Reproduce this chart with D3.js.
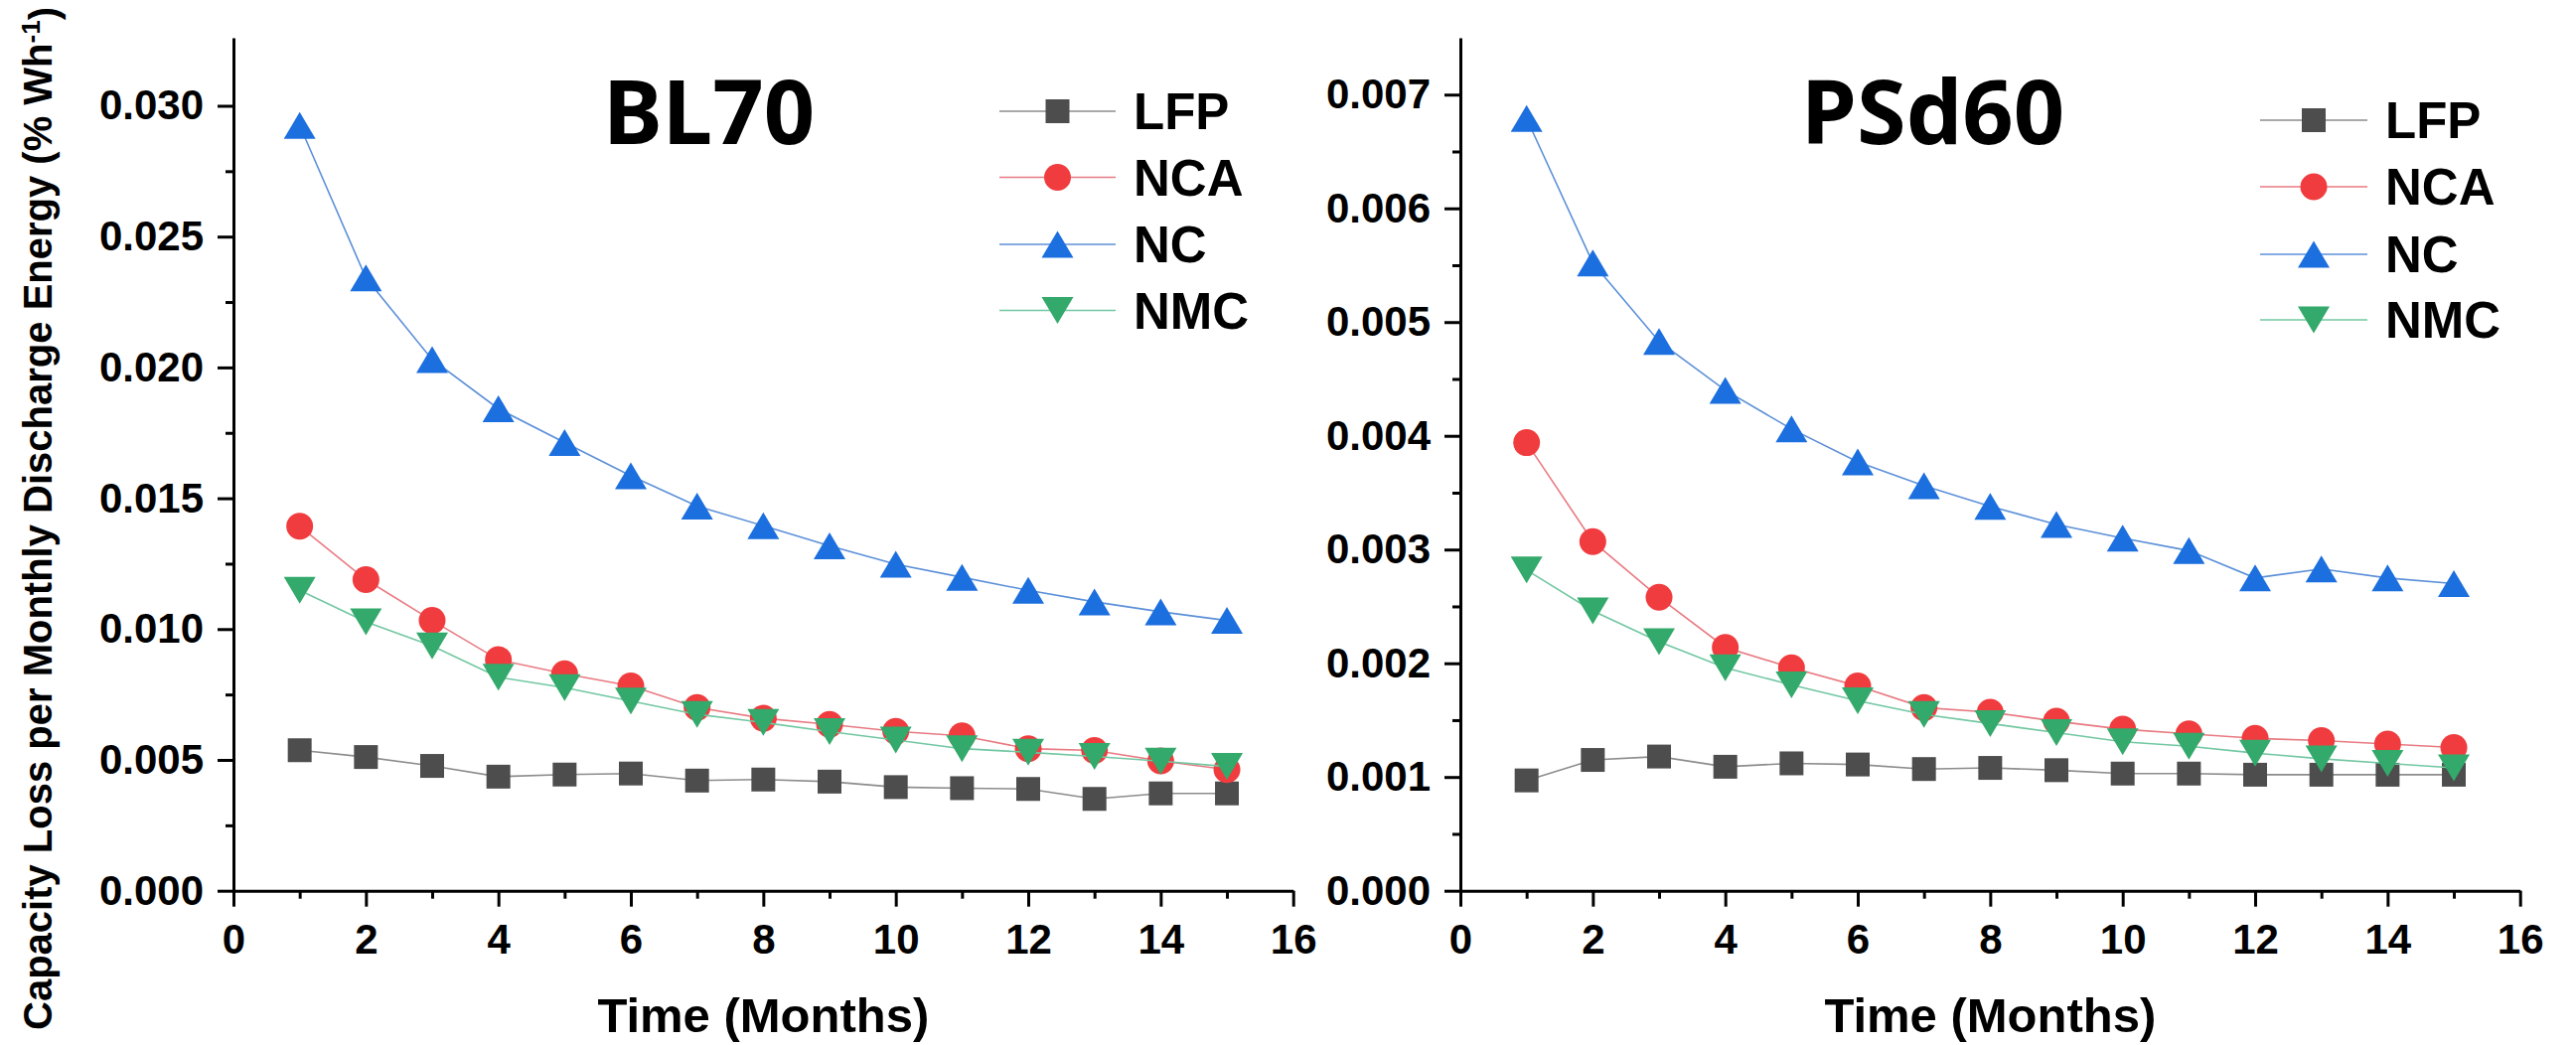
<!DOCTYPE html>
<html>
<head>
<meta charset="utf-8">
<script src="https://cdn.jsdelivr.net/npm/d3@7"></script>
<style>
  html, body { margin: 0; padding: 0; background: #ffffff; }
  svg { display: block; }
</style>
</head>
<body>
<svg id="chart" width="2593" height="1052"></svg>
<script>
// ---- data ----------------------------------------------------------------
const months = [1, 2, 3, 4, 5, 6, 7, 8, 9, 10, 11, 12, 13, 14, 15];
const seriesNames = ["LFP", "NCA", "NC", "NMC"];

// BL70 panel: capacity loss per monthly discharge energy (% Wh^-1)
const bl70LFP = [0.00537, 0.00511, 0.00477, 0.00436, 0.00444, 0.00448, 0.00421, 0.00425, 0.00417, 0.00396, 0.00392, 0.00389, 0.00351, 0.00372, 0.00372];
const bl70NCA = [0.01393, 0.01189, 0.01033, 0.00883, 0.00829, 0.00783, 0.00700, 0.00659, 0.00636, 0.00609, 0.00592, 0.00543, 0.00536, 0.00496, 0.00463];
const bl70NC  = [0.02925, 0.02342, 0.02030, 0.01842, 0.01713, 0.01586, 0.01470, 0.01395, 0.01318, 0.01248, 0.01198, 0.01148, 0.01104, 0.01066, 0.01033];
const bl70NMC = [0.01148, 0.01028, 0.00936, 0.00816, 0.00776, 0.00725, 0.00674, 0.00643, 0.00608, 0.00576, 0.00543, 0.00529, 0.00513, 0.00495, 0.00475];

// PSd60 panel
const psd60LFP = [0.00097, 0.00115, 0.00118, 0.00109, 0.00112, 0.00111, 0.00107, 0.00108, 0.00106, 0.00103, 0.00103, 0.00102, 0.00102, 0.00102, 0.00102];
const psd60NCA = [0.00394, 0.00307, 0.00258, 0.00214, 0.00196, 0.00180, 0.00161, 0.00157, 0.00149, 0.00142, 0.00138, 0.00134, 0.00132, 0.00129, 0.00126];
const psd60NC  = [0.00679, 0.00552, 0.00483, 0.00440, 0.00406, 0.00377, 0.00356, 0.00338, 0.00322, 0.00310, 0.00299, 0.00275, 0.00283, 0.00275, 0.00270];
const psd60NMC = [0.00282, 0.00246, 0.00219, 0.00196, 0.00181, 0.00167, 0.00155, 0.00147, 0.00139, 0.00131, 0.00127, 0.00121, 0.00116, 0.00112, 0.00108];

// axis ticks
const xTicks = [0, 2, 4, 6, 8, 10, 12, 14, 16];
const xMinorTicks = [1, 3, 5, 7, 9, 11, 13, 15];
const bl70YTicks = [0, 0.005, 0.010, 0.015, 0.020, 0.025, 0.030];
const bl70YMinor = [0.0025, 0.0075, 0.0125, 0.0175, 0.0225, 0.0275];
const psd60YTicks = [0, 0.001, 0.002, 0.003, 0.004, 0.005, 0.006, 0.007];
const psd60YMinor = [0.0005, 0.0015, 0.0025, 0.0035, 0.0045, 0.0055, 0.0065];

const xLabel = "Time (Months)";
const yLabel = "Capacity Loss per Monthly Discharge Energy (% Wh";

// ---- styling -------------------------------------------------------------
const markerFill = ["#4d4d4d", "#f03c3e", "#1c6fdf", "#33a96b"];
const lineColor  = ["#8c8c8c", "#e87a82", "#5c90d8", "#72c7a2"];
const markerKind = ["square", "circle", "up", "down"];
const axisFont = "'Liberation Sans', Arial, Helvetica, sans-serif";
const titleFont = "'Noto Sans', 'Open Sans', sans-serif";

const panels = [
  {
    title: "BL70",
    series: [bl70LFP, bl70NCA, bl70NC, bl70NMC],
    yMax: 0.0326, yTicks: bl70YTicks, yMinor: bl70YMinor,
    left: 235, right: 1301.7,
    titleX: 607,
    legendLineX: [1006, 1123], legendTextX: 1141, legendY: [112, 178.5, 246, 312.5]
  },
  {
    title: "PSd60",
    series: [psd60LFP, psd60NCA, psd60NC, psd60NMC],
    yMax: 0.0075, yTicks: psd60YTicks, yMinor: psd60YMinor,
    left: 1470, right: 2536.7,
    titleX: 1813,
    legendLineX: [2275, 2383], legendTextX: 2401, legendY: [121, 188, 256, 322]
  }
];

const plotTop = 38, plotBottom = 896.7;

function markerPath(kind) {
  const h = 13.5, w = 16, s = 12;
  if (kind === "square") return `M${-s},${-s}H${s}V${s}H${-s}Z`;
  if (kind === "circle") return `M${-h},0A${h},${h} 0 1,0 ${h},0A${h},${h} 0 1,0 ${-h},0Z`;
  if (kind === "up") return `M0,${-h}L${w},${h}L${-w},${h}Z`;
  return `M0,${h}L${w},${-h}L${-w},${-h}Z`;
}

const svg = d3.select("#chart");
svg.append("rect").attr("width", 2593).attr("height", 1052).attr("fill", "#ffffff");

panels.forEach(p => {
  const x = d3.scaleLinear().domain([0, 16]).range([p.left, p.right]);
  const y = d3.scaleLinear().domain([0, p.yMax]).range([plotBottom, plotTop]);
  const g = svg.append("g");

  // minor ticks
  g.append("g").attr("transform", `translate(0,${plotBottom})`)
    .call(d3.axisBottom(x).tickValues(xMinorTicks).tickSize(8).tickFormat(""))
    .call(a => a.select(".domain").remove());
  g.append("g").attr("transform", `translate(${p.left},0)`)
    .call(d3.axisLeft(y).tickValues(p.yMinor).tickSize(8).tickFormat(""))
    .call(a => a.select(".domain").remove());

  // major axes
  g.append("g").attr("class", "xaxis").attr("transform", `translate(0,${plotBottom})`)
    .call(d3.axisBottom(x).tickValues(xTicks).tickSize(16).tickSizeOuter(0).tickPadding(17).tickFormat(d3.format("d")));
  g.append("g").attr("class", "yaxis").attr("transform", `translate(${p.left},0)`)
    .call(d3.axisLeft(y).tickValues(p.yTicks).tickSize(16).tickSizeOuter(0).tickPadding(14).tickFormat(d3.format(".3f")));

  g.selectAll(".domain, .tick line").attr("stroke", "#000").attr("stroke-width", 3);
  g.selectAll(".tick text").attr("fill", "#000")
    .style("font-family", axisFont).style("font-weight", "bold").style("font-size", "42px");

  // series: line then markers, later series on top
  p.series.forEach((vals, i) => {
    const pts = months.map((m, k) => [m, vals[k]]);
    g.append("path")
      .attr("d", d3.line().x(d => x(d[0])).y(d => y(d[1]))(pts))
      .attr("fill", "none").attr("stroke", lineColor[i]).attr("stroke-width", 1.6);
    g.append("g").selectAll("path").data(pts).join("path")
      .attr("transform", d => `translate(${x(d[0])},${y(d[1])})`)
      .attr("d", markerPath(markerKind[i]))
      .attr("fill", markerFill[i]);
  });

  // panel title
  g.append("text").attr("x", p.titleX).attr("y", 145)
    .style("font-family", titleFont).style("font-weight", "bold").style("font-size", "90px")
    .attr("fill", "#000").text(p.title);

  // legend
  seriesNames.forEach((name, i) => {
    const ly = p.legendY[i];
    g.append("line").attr("x1", p.legendLineX[0]).attr("x2", p.legendLineX[1])
      .attr("y1", ly).attr("y2", ly).attr("stroke", lineColor[i]).attr("stroke-width", 1.6);
    g.append("path").attr("transform", `translate(${(p.legendLineX[0] + p.legendLineX[1]) / 2},${ly})`)
      .attr("d", markerPath(markerKind[i])).attr("fill", markerFill[i]);
    g.append("text").attr("x", p.legendTextX).attr("y", ly).attr("dy", "0.36em")
      .style("font-family", axisFont).style("font-weight", "bold").style("font-size", "51px")
      .attr("fill", "#000").text(name);
  });

  // x axis title
  g.append("text").attr("x", (p.left + p.right) / 2).attr("y", 1039).attr("text-anchor", "middle")
    .style("font-family", axisFont).style("font-weight", "bold").style("font-size", "49px")
    .attr("fill", "#000").text(xLabel);
});

// shared y axis title
const yt = svg.append("text")
  .attr("transform", "translate(52,522) rotate(-90)")
  .attr("text-anchor", "middle")
  .style("font-family", axisFont).style("font-weight", "bold").style("font-size", "40px")
  .attr("fill", "#000");
yt.append("tspan").text(yLabel);
yt.append("tspan").attr("dy", "-0.45em").style("font-size", "26px").text("-1");
yt.append("tspan").attr("dy", "0.45em").text(")");
</script>
</body>
</html>
